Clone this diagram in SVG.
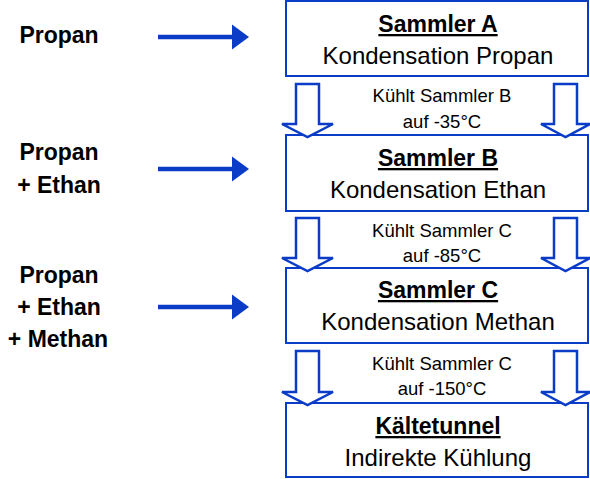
<svg xmlns="http://www.w3.org/2000/svg" width="590" height="479" viewBox="0 0 590 479">
<style>
.box{fill:#fff;stroke:#0a3cc8;stroke-width:2}
.hol{fill:#fff;stroke:#0a3cc8;stroke-width:2.5;stroke-linejoin:miter}
.ln{stroke:#0a3cc8;stroke-width:4.5}
.hd{fill:#0a3cc8}
text{font-family:"Liberation Sans",Arial,sans-serif;fill:#000;text-anchor:middle}
.t{font-size:23px;font-weight:bold;text-decoration:underline}
.s{font-size:24px}
.m{font-size:18.5px}
.l{font-size:23px;font-weight:bold}
</style>
<rect width="590" height="479" fill="#fff"/>
<g id="label-propan"><text class="l" x="59" y="43">Propan</text></g>
<g id="label-propan-ethan"><text class="l" x="59" y="160">Propan</text><text class="l" x="59" y="193">+ Ethan</text></g>
<g id="label-propan-ethan-methan"><text class="l" x="59" y="283">Propan</text><text class="l" x="59" y="315">+ Ethan</text><text class="l" x="58" y="347">+ Methan</text></g>
<g id="sammler-a"><rect class="box" x="286" y="1" width="302" height="75"/><text class="t" x="438" y="32">Sammler A</text><text class="s" x="438" y="64">Kondensation Propan</text></g>
<g id="sammler-b"><rect class="box" x="286" y="135" width="302" height="76"/><text class="t" x="438" y="166">Sammler B</text><text class="s" x="438" y="198">Kondensation Ethan</text></g>
<g id="sammler-c"><rect class="box" x="286" y="268" width="302" height="75"/><text class="t" x="438" y="298">Sammler C</text><text class="s" x="438" y="330">Kondensation Methan</text></g>
<g id="kaeltetunnel"><rect class="box" x="286" y="403" width="302" height="74"/><text class="t" x="438" y="434">Kältetunnel</text><text class="s" x="438" y="466">Indirekte Kühlung</text></g>
<g id="connectors">
<line class="ln" x1="158" y1="37" x2="234" y2="37"/><polygon class="hd" points="232,24.5 249,37 232,49.5"/>
<line class="ln" x1="158" y1="169" x2="234" y2="169"/><polygon class="hd" points="232,156.5 249,169 232,181.5"/>
<line class="ln" x1="158" y1="307" x2="234" y2="307"/><polygon class="hd" points="232,294.5 249,307 232,319.5"/>
<path class="hol" d="M296,84 H319 V124 H333 L307.5,137 L282,124 H296 Z"/>
<path class="hol" d="M554,84 H577 V124 H590 L565.5,137 L541,124 H554 Z"/>
<path class="hol" d="M296,218 H319 V258 H333 L307.5,271 L282,258 H296 Z"/>
<path class="hol" d="M554,218 H577 V258 H590 L565.5,271 L541,258 H554 Z"/>
<path class="hol" d="M296,351 H319 V392 H333 L307.5,405 L282,392 H296 Z"/>
<path class="hol" d="M554,351 H577 V392 H590 L565.5,405 L541,392 H554 Z"/>
</g>
<g id="cooling-labels">
<text class="m" x="442" y="102">Kühlt Sammler B</text><text class="m" x="442" y="128">auf -35°C</text>
<text class="m" x="442" y="237">Kühlt Sammler C</text><text class="m" x="442" y="262">auf -85°C</text>
<text class="m" x="442" y="370">Kühlt Sammler C</text><text class="m" x="442" y="395">auf -150°C</text>
</g>
</svg>
